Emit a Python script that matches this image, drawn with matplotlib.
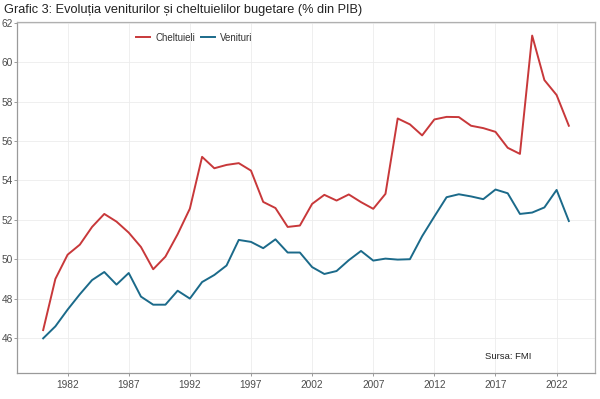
import matplotlib
matplotlib.use("Agg")
import matplotlib.pyplot as plt
from matplotlib import font_manager as fm

years = list(range(1980, 2024))
cheltuieli = [46.4, 49.0, 50.23, 50.74, 51.64, 52.3, 51.91, 51.35, 50.62, 49.49,
              50.13, 51.27, 52.57, 55.2, 54.62, 54.79, 54.88, 54.5, 52.91, 52.6,
              51.64, 51.71, 52.81, 53.27, 52.98, 53.29, 52.9, 52.56, 53.32, 57.15,
              56.85, 56.29, 57.1, 57.23, 57.22, 56.78, 56.66, 56.47, 55.66, 55.35,
              61.36, 59.1, 58.34, 56.78]
venituri = [45.98, 46.59, 47.44, 48.22, 48.94, 49.35, 48.71, 49.3, 48.1, 47.69,
            47.69, 48.4, 48.0, 48.84, 49.2, 49.68, 50.98, 50.88, 50.56, 51.01,
            50.34, 50.34, 49.6, 49.25, 49.4, 49.95, 50.42, 49.93, 50.03, 49.98,
            50.0, 51.17, 52.17, 53.15, 53.3, 53.19, 53.05, 53.54, 53.35, 52.3,
            52.37, 52.63, 53.52, 51.94]
xticks = [1982, 1987, 1992, 1997, 2002, 2007, 2012, 2017, 2022]
yticks = [46, 48, 50, 52, 54, 56, 58, 60, 62]
title = "Grafic 3: Evoluția veniturilor și cheltuielilor bugetare (% din PIB)"

# avoid picking the Narrow variant of Liberation Sans
fm.fontManager.ttflist = [f for f in fm.fontManager.ttflist
                          if 'narrow' not in f.fname.lower()]
plt.rcParams['font.family'] = ['Liberation Sans', 'DejaVu Sans']

fig = plt.figure(figsize=(6, 3.99), dpi=100)
ax = fig.add_axes([17/600, 1-373/399, (595-17)/600, (373-22)/399])

red = "#C8383A"
blue = "#1B6A8A"
ax.plot(years, cheltuieli, color=red, lw=1.4, label="Cheltuieli")
ax.plot(years, venituri, color=blue, lw=1.4, label="Venituri")

ax.set_xlim(1977.86, 2025.14)
ax.set_ylim(44.22, 62.05)
ax.set_xticks(xticks)
ax.set_yticks(yticks)
ax.tick_params(axis='both', labelsize=7.3, colors="#4d4d4d", length=2.2, width=0.6)
ax.tick_params(axis='x', pad=2.5)
ax.tick_params(axis='y', pad=0.8)
ax.tick_params(axis='both', color="#8a8a8a")
ax.grid(True, color="#ececec", lw=0.6)
ax.set_axisbelow(True)
for s in ax.spines.values():
    s.set_color("#b0b0b0")
    s.set_linewidth(0.9)
ax.spines['left'].set_color("#9a9a9a")
ax.spines['bottom'].set_color("#9a9a9a")

ax.text(2018, 45.06, "Sursa: FMI", fontsize=6.8, color="#222222",
        ha="center", va="center")

leg = ax.legend(loc="upper left", bbox_to_anchor=(0.19, 0.995), ncol=2,
                frameon=False, fontsize=7, handlelength=1.5, handletextpad=0.5,
                columnspacing=0.6)
for t in leg.get_texts():
    t.set_color("#333333")

fig.text(4/600, 1-10/399, title, fontsize=9.2, color="#222222",
         ha="left", va="center")

fig.savefig("out.png", dpi=100)
